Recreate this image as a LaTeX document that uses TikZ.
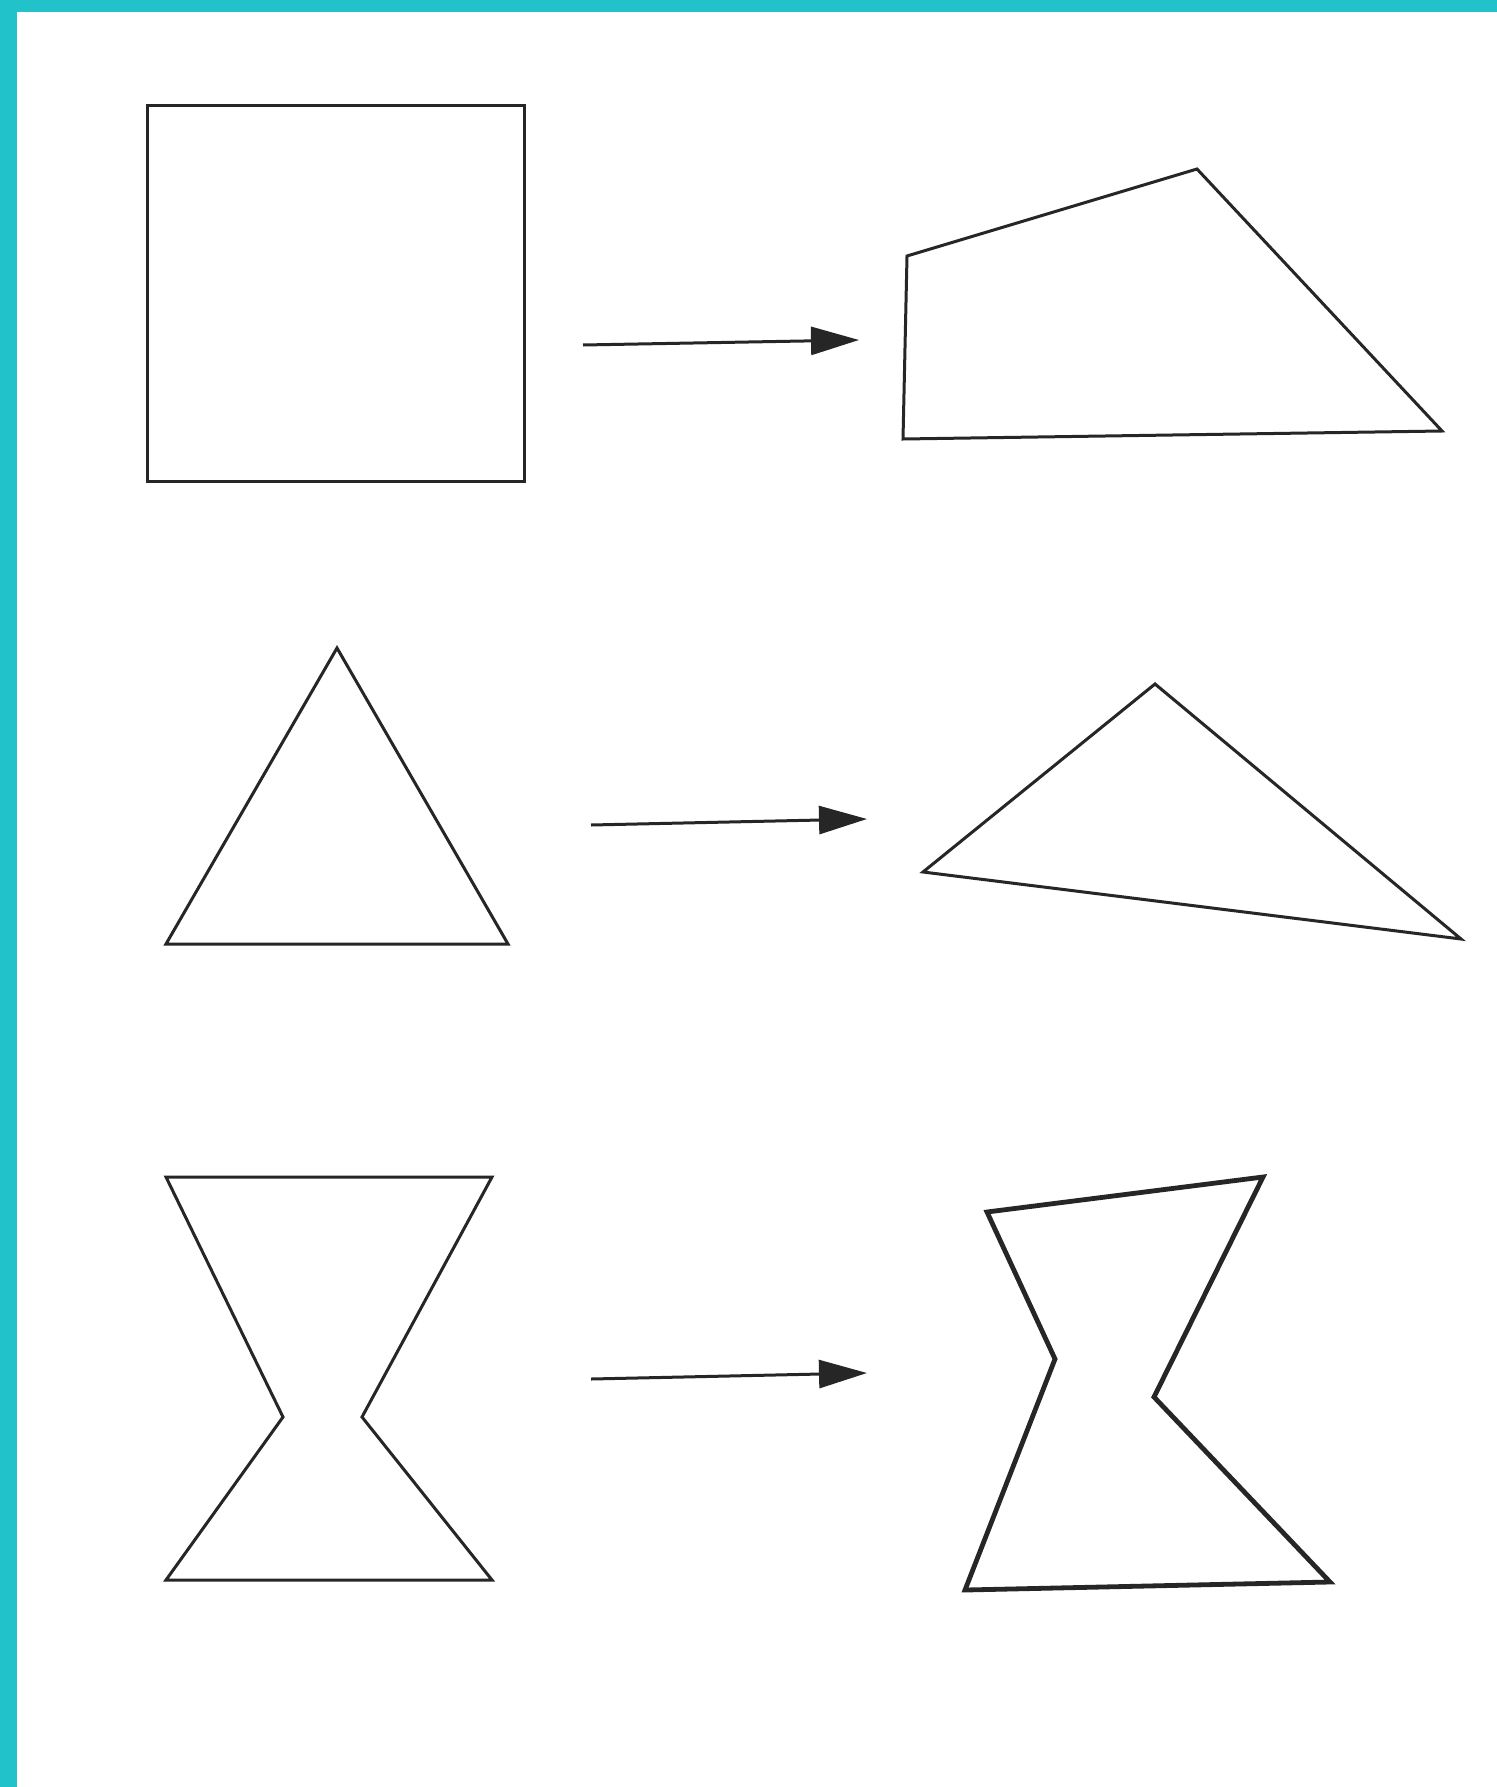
\documentclass[tikz,border=0pt]{standalone}
\usetikzlibrary{arrows.meta}
\definecolor{teal1}{HTML}{22C2CB}
\begin{document}
\begin{tikzpicture}[x=0.5pt,y=-0.5pt,
  outline/.style={draw=black!85,line width=1.5pt,line join=miter},
  heavyoutline/.style={draw=black!85,line width=2.4pt,line join=miter},
  conn/.style={draw=black!85,line width=1.5pt,-{Triangle[length=24pt,width=14pt]}}]
\fill[white] (0,0) rectangle (1497,1787);
\useasboundingbox (0,0) rectangle (1497,1787);
\fill[teal1] (0,0) rectangle (1497,12);
\fill[teal1] (0,0) rectangle (17,1787);
% row 1
\draw[outline] (147,106) rectangle (524,481);
\draw[outline] (907,256) -- (1197,169) -- (1442,431) -- (903,439) -- cycle;
\coordinate (a1s) at (583,345);
\coordinate (a1e) at (859,340);
\draw[conn] (a1s) -- (a1e);
% row 2
\draw[outline] (337,648) -- (508,944) -- (166,944) -- cycle;
\draw[outline] (1155,684) -- (1461,939) -- (923,872) -- cycle;
\coordinate (a2s) at (591,825);
\coordinate (a2e) at (867,819);
\draw[conn] (a2s) -- (a2e);
% row 3
\draw[outline] (166,1177) -- (492,1177) -- (362,1417) -- (492,1580) -- (166,1580) -- (283,1417) -- cycle;
\draw[heavyoutline] (987,1212) -- (1263,1177) -- (1154,1397) -- (1330,1582) -- (965,1590) -- (1055,1359) -- cycle;
\coordinate (a3s) at (591,1379);
\coordinate (a3e) at (867,1373);
\draw[conn] (a3s) -- (a3e);
\end{tikzpicture}
\end{document}
